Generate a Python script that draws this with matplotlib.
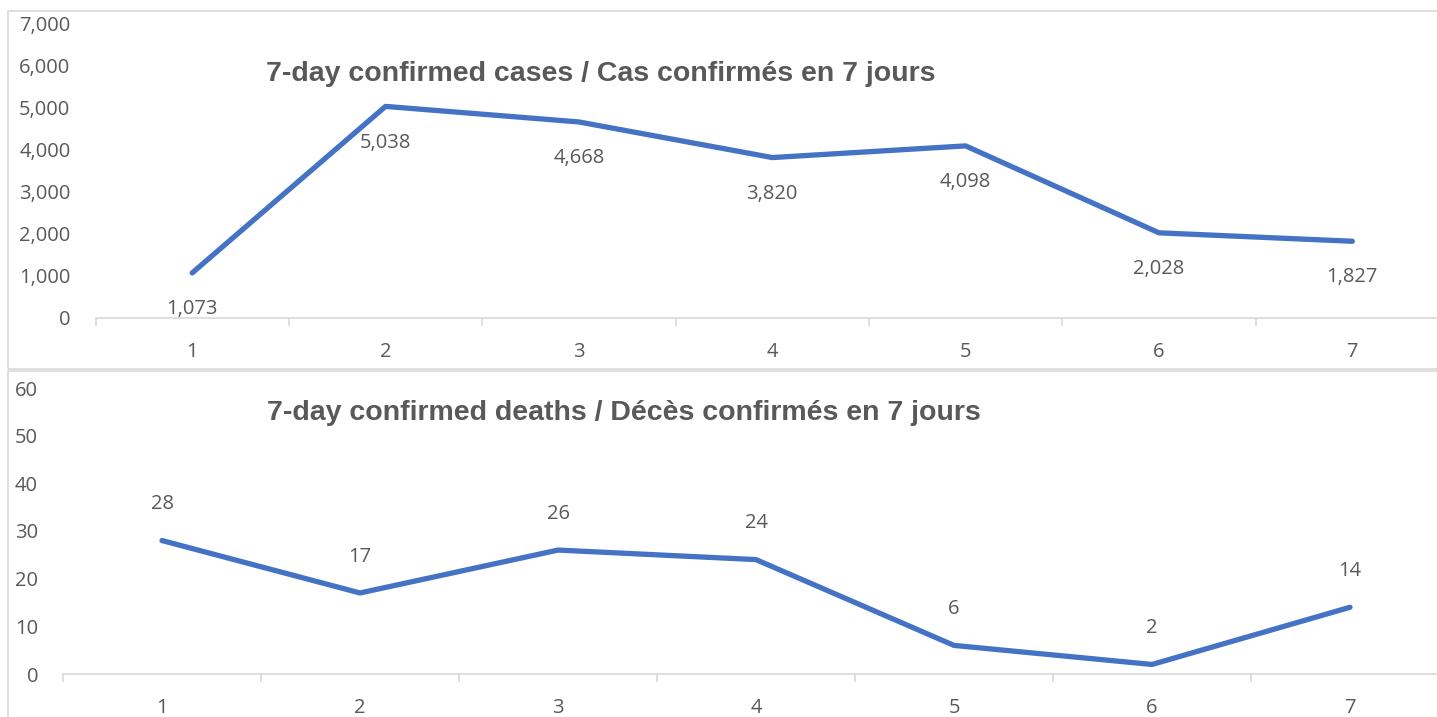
import matplotlib
matplotlib.use("Agg")
import matplotlib.pyplot as plt
from matplotlib.patches import Rectangle

days = [1, 2, 3, 4, 5, 6, 7]
cases = [1073, 5038, 4668, 3820, 4098, 2028, 1827]
deaths = [28, 17, 26, 24, 6, 2, 14]

cases_title = "7-day confirmed cases / Cas confirmés en 7 jours"
deaths_title = "7-day confirmed deaths / Décès confirmés en 7 jours"

W, H = 1437, 717
LINE = "#4472C4"
TXT = "#595959"
GRID = "#D9D9D9"

plt.rcParams["font.family"] = ["Open Sans", "DejaVu Sans"]

fig = plt.figure(figsize=(W / 100, H / 100), dpi=100)


def px(x0, y_top, x1, y_bot):
    # pixel box (from top-left) -> figure fraction rect
    return [x0 / W, 1 - y_bot / H, (x1 - x0) / W, (y_bot - y_top) / H]


# chart borders
for x0, y0, x1, y1 in [(8, 11, 1460, 369), (8, 371, 1460, 740)]:
    fig.patches.append(Rectangle((x0 / W, 1 - y1 / H), (x1 - x0) / W, (y1 - y0) / H,
                                 transform=fig.transFigure, fill=False,
                                 edgecolor=GRID, linewidth=1.2))


def draw(ax, values, ymax, step, fmt, offset, title, tx, ty):
    ax.plot(days, values, color=LINE, linewidth=3.8, solid_capstyle="round",
            solid_joinstyle="round")
    ax.set_xlim(0.5, 7.5)
    ax.set_ylim(0, ymax)
    ax.set_yticks(range(0, ymax + 1, step))
    ax.set_yticklabels([fmt.format(v) for v in range(0, ymax + 1, step)])
    ax.set_xticks(days)
    ax.set_xticks([d + 0.5 for d in range(0, 8)], minor=True)
    for s in ["top", "right", "left"]:
        ax.spines[s].set_visible(False)
    ax.spines["bottom"].set_color(GRID)
    ax.spines["bottom"].set_linewidth(1.2)
    ax.tick_params(axis="y", length=0, pad=18, labelsize=14.5, labelcolor=TXT)
    ax.tick_params(axis="x", which="major", length=0, pad=17, labelsize=14.5,
                   labelcolor=TXT)
    ax.tick_params(axis="x", which="minor", length=6, width=1.2, color=GRID)
    ax.patch.set_visible(False)
    for d, v in zip(days, values):
        ax.annotate(fmt.format(v), (d, v), xytext=(0, offset), textcoords="offset points",
                    ha="center", va="center", fontsize=14.5, color=TXT)
    fig.text(tx / W, 1 - ty / H, title, ha="center", va="center", fontsize=20.5,
             fontweight="bold", color=TXT, family=["Liberation Sans", "DejaVu Sans"])


ax1 = fig.add_axes(px(95.5, 24, 1449, 318))
draw(ax1, cases, 7000, 1000, "{:,}", -26, cases_title, 601, 74)

ax2 = fig.add_axes(px(63, 388, 1449, 674))
draw(ax2, deaths, 60, 10, "{}", 26, deaths_title, 624, 413)

fig.savefig("out.png", dpi=100)
